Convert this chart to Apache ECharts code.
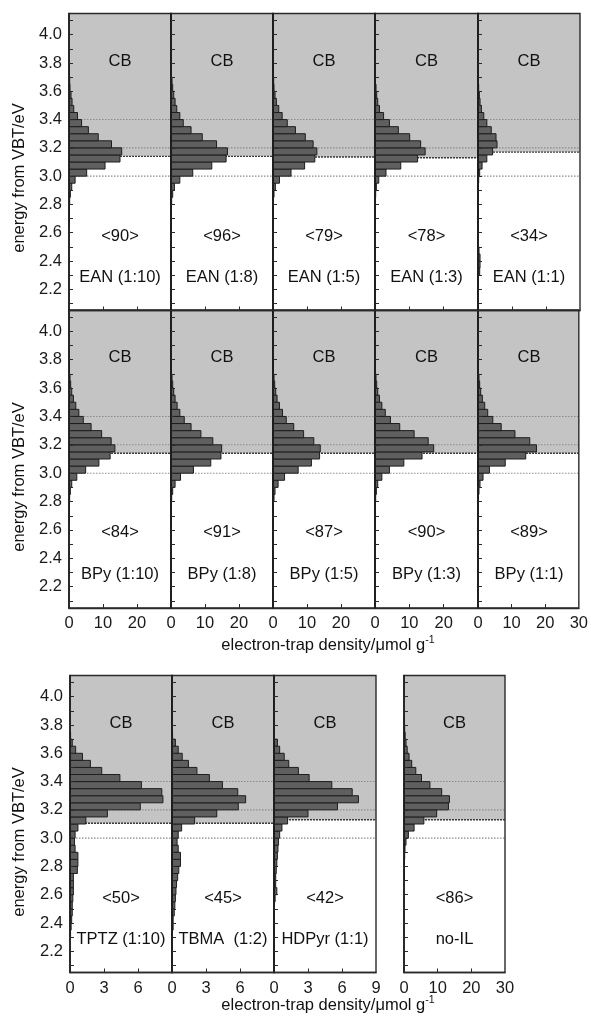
<!DOCTYPE html>
<html>
<head>
<meta charset="utf-8">
<script src="https://cdn.jsdelivr.net/npm/echarts@6/dist/echarts.min.js"></script>
<style>
  html, body { margin: 0; padding: 0; background: #fff; }
  #chart { width: 591px; height: 1017px; }
</style>
</head>
<body>
<div id="chart"></div>
<script>
// energy bins, lower edge in eV (bins are 0.05 eV wide)
var binStart = [2.30, 2.35, 2.40, 2.45, 2.50, 2.55, 2.60, 2.65, 2.70, 2.75,
  2.80, 2.85, 2.90, 2.95, 3.00, 3.05, 3.10, 3.15, 3.20, 3.25,
  3.30, 3.35, 3.40, 3.45, 3.50, 3.55, 3.60, 3.65, 3.70, 3.75, 3.80]
var binWidth = 0.05

// electron-trap density per bin, umol/g
var ean110 = [0, 0, 0, 0, 0, 0, 0, 0.05, 0.1, 0.1, 0.2, 0.4, 0.8, 1.8, 5.2, 10.6, 15.0, 15.5, 12.5, 8.6, 5.7, 3.7, 2.5, 1.4, 0.9, 0.6, 0.3, 0.2, 0.1, 0.05, 0]
var ean18 = [0, 0, 0, 0, 0, 0, 0, 0.05, 0.1, 0.1, 0.2, 0.5, 1.0, 2.6, 6.4, 12.0, 16.2, 16.6, 13.4, 9.2, 5.9, 3.6, 2.6, 1.7, 1.2, 0.8, 0.5, 0.3, 0.1, 0.05, 0]
var ean15 = [0, 0, 0, 0, 0, 0, 0, 0.05, 0.1, 0.1, 0.15, 0.3, 0.7, 1.9, 5.3, 9.3, 12.3, 12.9, 11.8, 9.5, 6.6, 4.2, 2.7, 1.7, 1.0, 0.6, 0.3, 0.2, 0.1, 0.05, 0]
var ean13 = [0, 0, 0, 0, 0, 0, 0, 0.05, 0.05, 0.1, 0.1, 0.2, 0.4, 1.1, 3.2, 7.5, 12.4, 14.6, 13.3, 10.1, 6.8, 4.2, 2.5, 1.3, 0.8, 0.5, 0.3, 0.1, 0.05, 0, 0]
var ean11 = [0.5, 0.6, 0.6, 0.3, 0, 0, 0, 0, 0, 0, 0, 0, 0.1, 0.2, 0.5, 1.2, 2.6, 4.3, 5.6, 5.3, 3.9, 2.6, 1.7, 1.0, 0.6, 0.4, 0.2, 0.1, 0.05, 0, 0]
var bpy110 = [0, 0, 0, 0, 0, 0, 0, 0.05, 0.1, 0.1, 0.2, 0.4, 0.8, 2.3, 4.9, 8.8, 12.1, 13.5, 12.4, 9.6, 6.5, 4.2, 2.9, 2.0, 1.3, 0.8, 0.5, 0.3, 0.1, 0.05, 0]
var bpy18 = [0, 0, 0, 0, 0, 0, 0, 0.05, 0.1, 0.1, 0.2, 0.5, 1.2, 2.8, 6.6, 11.7, 14.7, 14.9, 12.3, 8.8, 5.9, 3.9, 2.6, 1.8, 1.2, 0.8, 0.5, 0.3, 0.1, 0.05, 0]
var bpy15 = [0, 0, 0, 0, 0, 0, 0, 0.05, 0.1, 0.1, 0.3, 0.6, 1.5, 3.4, 7.4, 11.3, 13.7, 13.9, 12.0, 9.0, 6.1, 3.9, 2.8, 1.9, 1.2, 0.8, 0.5, 0.3, 0.1, 0.05, 0]
var bpy13 = [0, 0, 0, 0, 0, 0, 0, 0.05, 0.1, 0.1, 0.2, 0.4, 0.8, 2.0, 4.2, 8.4, 13.7, 17.1, 15.5, 11.4, 7.2, 4.5, 3.0, 2.0, 1.3, 0.8, 0.5, 0.3, 0.1, 0.05, 0]
var bpy11 = [0, 0, 0, 0, 0, 0, 0, 0.05, 0.05, 0.1, 0.1, 0.3, 0.6, 1.5, 3.4, 8.1, 14.2, 17.4, 15.4, 11.0, 6.9, 4.4, 2.9, 2.0, 1.3, 0.8, 0.5, 0.3, 0.1, 0.05, 0]
var tptz = [0.05, 0.1, 0.15, 0.2, 0.2, 0.25, 0.3, 0.3, 0.3, 0.65, 0.7, 0.7, 0.45, 0.4, 0.45, 0.7, 1.4, 3.3, 6.2, 8.2, 8.1, 6.3, 4.4, 2.8, 1.8, 1.1, 0.5, 0.2, 0.05, 0, 0]
var tbma = [0, 0.1, 0.1, 0.2, 0.25, 0.3, 0.35, 0.4, 0.5, 0.6, 0.75, 0.75, 0.55, 0.45, 0.55, 0.85, 2.0, 3.95, 5.85, 6.5, 5.8, 4.45, 3.3, 2.2, 1.45, 0.9, 0.55, 0.3, 0.05, 0, 0]
var hdpyr = [0, 0, 0, 0, 0, 0.1, 0.25, 0.15, 0.15, 0.2, 0.25, 0.3, 0.35, 0.4, 0.5, 0.7, 1.2, 3.0, 5.6, 7.45, 6.9, 5.1, 3.1, 2.15, 1.3, 0.9, 0.5, 0.3, 0, 0, 0]
var noIL = [0, 0, 0, 0, 0, 0, 0, 0, 0.05, 0.1, 0.1, 0.2, 0.3, 0.6, 1.3, 3.0, 5.9, 9.7, 13.2, 13.5, 11.2, 7.7, 5.2, 3.5, 2.3, 1.5, 0.95, 0.6, 0.35, 0.2, 0.1]

var panelData = [ean110, ean18, ean15, ean13, ean11, bpy110, bpy18, bpy15, bpy13, bpy11, tptz, tbma, hdpyr, noIL]
var panelNames = ['EAN (1:10)', 'EAN (1:8)', 'EAN (1:5)', 'EAN (1:3)', 'EAN (1:1)',
  'BPy (1:10)', 'BPy (1:8)', 'BPy (1:5)', 'BPy (1:3)', 'BPy (1:1)',
  'TPTZ (1:10)', 'TBMA  (1:2)', 'HDPyr (1:1)', 'no-IL']
var panelTotals = [90, 96, 79, 78, 34, 84, 91, 87, 90, 89, 50, 45, 42, 86]
// conduction-band edge (eV) for each panel
var cbEdge = [3.14, 3.14, 3.135, 3.13, 3.17, 3.14, 3.14, 3.14, 3.14, 3.14, 3.105, 3.105, 3.13, 3.13]
var refLines = [3.4, 3.2, 3.0]

var yTicks = [2.1, 2.2, 2.3, 2.4, 2.5, 2.6, 2.7, 2.8, 2.9, 3.0, 3.1, 3.2, 3.3, 3.4, 3.5, 3.6, 3.7, 3.8, 3.9, 4.0, 4.1]
var yTickLabels = [2.2, 2.4, 2.6, 2.8, 3.0, 3.2, 3.4, 3.6, 3.8, 4.0]
var xTicks30 = [10, 20]
var xLabels30 = [0, 10, 20]
var xLabels30Last = [0, 10, 20, 30]
var xTicks9 = [3, 6]
var xLabels9 = [0, 3, 6]
var xLabels9Last = [0, 3, 6, 9]

// layout
var FONT = '"Liberation Sans", Arial, sans-serif'
var Y_MAX = 4.15
var Y_MIN = 2.05
var rowTop = [13.5, 310, 675.5]
var rowHeight = [297, 298, 297]
var panels = [
  {row: 0, left: 69, width: 102}, {row: 0, left: 171, width: 102}, {row: 0, left: 273, width: 102},
  {row: 0, left: 375, width: 103}, {row: 0, left: 478, width: 102},
  {row: 1, left: 69, width: 102}, {row: 1, left: 171, width: 102}, {row: 1, left: 273, width: 102},
  {row: 1, left: 375, width: 103}, {row: 1, left: 478, width: 102},
  {row: 2, left: 70, width: 102}, {row: 2, left: 172, width: 102}, {row: 2, left: 274, width: 102},
  {row: 2, left: 404, width: 101}
]
var xMaxOf = [30, 30, 30, 30, 30, 30, 30, 30, 30, 30, 9, 9, 9, 30]

var grids = []
var xAxes = []
var yAxes = []
var series = []
var graphics = []

panels.forEach(function (p, i) {
  var xMax = xMaxOf[i]
  var top = rowTop[p.row]
  var h = rowHeight[p.row]
  var firstInRow = (i === 0 || i === 5 || i === 10)
  var showXLabels = p.row > 0
  var lastInGroup = (i === 9 || i === 12 || i === 13)
  var xLabels = xMax === 9 ? (lastInGroup ? xLabels9Last : xLabels9) : (lastInGroup ? xLabels30Last : xLabels30)

  grids.push({
    left: p.left, top: top, width: p.width, height: h, z: 10,
    show: true, borderColor: '#2a2a2a', borderWidth: 1.4
  })
  xAxes.push({
    type: 'value', gridIndex: i, min: 0, max: xMax, z: 10,
    splitLine: {show: false},
    axisLine: {show: true, onZero: false, lineStyle: {color: '#2a2a2a', width: 1.4}},
    axisTick: {show: true, inside: true, length: 4, customValues: xMax === 9 ? xTicks9 : xTicks30,
      lineStyle: {color: '#2a2a2a', width: 1}},
    axisLabel: {show: showXLabels, customValues: xLabels, margin: 7,
      fontSize: 16.5, color: '#1a1a1a', fontFamily: FONT}
  })
  yAxes.push({
    type: 'value', gridIndex: i, min: Y_MIN, max: Y_MAX, z: 10,
    splitLine: {show: false},
    axisLine: {show: true, onZero: false, lineStyle: {color: '#1a1a1a', width: 1.6}},
    axisTick: {show: true, inside: true, length: 4, customValues: yTicks,
      lineStyle: {color: '#2a2a2a', width: 1}},
    axisLabel: {show: firstInRow, customValues: yTickLabels, margin: 7,
      fontSize: 16.5, color: '#1a1a1a', fontFamily: FONT,
      formatter: function (v) { return v.toFixed(1) }}
  })

  // CB shaded band
  series.push({
    type: 'custom', xAxisIndex: i, yAxisIndex: i, z: 1, silent: true,
    data: [[xMax, cbEdge[i]]],
    renderItem: function (params, api) {
      var a = api.coord([0, Y_MAX])
      var b = api.coord([api.value(0), api.value(1)])
      return {type: 'rect', shape: {x: a[0], y: a[1], width: b[0] - a[0], height: b[1] - a[1]},
        style: {fill: '#c4c4c4'}}
    }
  })
  // reference lines (dotted) and CB edge (dashed)
  var lineData = refLines.map(function (y) { return [xMax, y, 0] })
  lineData.push([xMax, cbEdge[i], 1])
  series.push({
    type: 'custom', xAxisIndex: i, yAxisIndex: i, z: 2, silent: true,
    data: lineData,
    renderItem: function (params, api) {
      var a = api.coord([0, api.value(1)])
      var b = api.coord([api.value(0), api.value(1)])
      var edge = api.value(2) === 1
      return {type: 'line', shape: {x1: a[0], y1: a[1], x2: b[0], y2: b[1]},
        style: {stroke: edge ? '#3a3a3a' : '#8a8a8a', lineWidth: edge ? 1.4 : 1.1,
          lineDash: edge ? [2, 1] : [1.5, 1.5]}}
    }
  })
  // histogram bars
  var vals = panelData[i]
  var barData = []
  binStart.forEach(function (e, k) {
    if (vals[k] > 0) barData.push([vals[k], e])
  })
  series.push({
    type: 'custom', xAxisIndex: i, yAxisIndex: i, z: 3, silent: true, clip: true,
    data: barData,
    renderItem: function (params, api) {
      var a = api.coord([0, api.value(1) + binWidth])
      var b = api.coord([api.value(0), api.value(1)])
      return {type: 'rect', shape: {x: a[0], y: a[1], width: b[0] - a[0], height: b[1] - a[1]},
        style: {fill: '#5f5f5f', stroke: '#1e1e1e', lineWidth: 1}}
    }
  })

  var cx = p.left + p.width / 2
  var texts = [['CB', 47.5], ['<' + panelTotals[i] + '>', 222.5], [panelNames[i], 264]]
  texts.forEach(function (t) {
    graphics.push({
      type: 'text', x: cx, y: top + t[1], z: 10, silent: true,
      style: {text: t[0], fill: '#111', font: '16.5px ' + FONT, align: 'center', verticalAlign: 'middle'}
    })
  })
})

// axis titles
var yNameY = [178, 477, 842]
yNameY.forEach(function (y) {
  graphics.push({
    type: 'text', x: 19, y: y, rotation: Math.PI / 2, z: 10, silent: true,
    style: {text: 'energy from VBT/eV', fill: '#111', font: '16.5px ' + FONT, align: 'center', verticalAlign: 'middle'}
  })
})
var xNameY = [645, 1005]
xNameY.forEach(function (y) {
  graphics.push({
    type: 'text', x: 328, y: y, z: 10, silent: true,
    style: {
      text: '{a|electron-trap density/μmol g}{s|-1}',
      align: 'center', verticalAlign: 'middle',
      rich: {
        a: {fontSize: 16.5, fontFamily: FONT, fill: '#111', lineHeight: 20},
        s: {fontSize: 10.5, fontFamily: FONT, fill: '#111', verticalAlign: 'top', lineHeight: 12}
      }
    }
  })
})

var chart = echarts.init(document.getElementById('chart'))
chart.setOption({
  animation: false,
  backgroundColor: '#fff',
  grid: grids,
  xAxis: xAxes,
  yAxis: yAxes,
  series: series,
  graphic: graphics
})
</script>
</body>
</html>
